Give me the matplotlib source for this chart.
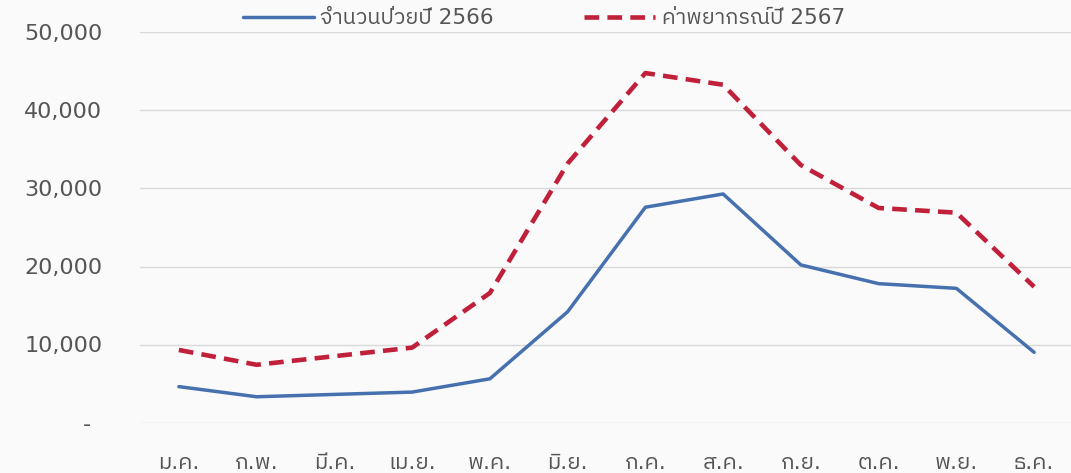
import matplotlib
matplotlib.use("Agg")
import matplotlib.pyplot as plt
import matplotlib.transforms as mtransforms
from matplotlib import font_manager as fm
from matplotlib.ft2font import FT2Font

# ---- data ----
months = ["ม.ค.", "ก.พ.", "มี.ค.", "เม.ย.", "พ.ค.", "มิ.ย.",
          "ก.ค.", "ส.ค.", "ก.ย.", "ต.ค.", "พ.ย.", "ธ.ค."]
cases_2566 = [4600, 3300, 3600, 3900, 5600, 14200, 27600, 29300, 20200, 17800, 17200, 9000]
forecast_2567 = [9300, 7400, 8500, 9600, 16600, 33200, 44800, 43300, 33000, 27500, 26900, 17400]
series_labels = ["จำนวนป่วยปี 2566", "ค่าพยากรณ์ปี 2567"]
y_ticks = [0, 10000, 20000, 30000, 40000, 50000]
y_ticklabels = ["-", "10,000", "20,000", "30,000", "40,000", "50,000"]

# ---- find a font with Thai glyphs ----
thai_font = None
preferred = []
for f in fm.fontManager.ttflist:
    try:
        ft = FT2Font(f.fname)
        if ft.get_char_index(ord("ก")) and ft.get_char_index(ord("2")):
            preferred.append(f.name)
    except Exception:
        pass
for cand in preferred:
    if "Thai" in cand or "Kanit" in cand or "Prompt" in cand:
        thai_font = cand
        break
if thai_font is None and preferred:
    thai_font = preferred[0]
families = ["DejaVu Sans"] + ([thai_font] if thai_font else [])
plt.rcParams["font.family"] = families

bg = "#FAFAFA"
text_col = "#555555"

fig = plt.figure(figsize=(10.71, 4.73), dpi=100, facecolor=bg)
ax = fig.add_axes([140 / 1071, 50.5 / 473, 933 / 1071, 390 / 473], facecolor=bg)

x = list(range(len(months)))
ax.plot(x, cases_2566, color="#4670AE", lw=2.5, solid_joinstyle="round",
        solid_capstyle="round", label=series_labels[0], zorder=3)
ax.plot(x, forecast_2567, color="#C0203A", lw=3.3, linestyle=(0, (3.2, 1.8)),
        dash_joinstyle="round", dash_capstyle="butt", label=series_labels[1], zorder=3)

ax.set_xlim(-0.5, len(months) - 0.5)
ax.set_ylim(0, 50000)
ax.set_yticks(y_ticks)
ax.set_yticklabels(y_ticklabels)
ax.set_xticks(x)
ax.set_xticklabels(months)
ax.grid(axis="y", color="#D9D9D9", lw=1.0, zorder=0)
ax.set_axisbelow(True)
for s in ax.spines.values():
    s.set_visible(False)
ax.tick_params(axis="both", length=0, colors=text_col)
ax.tick_params(axis="y", pad=27, labelsize=16)
ax.tick_params(axis="x", pad=22, labelsize=16)

# shift the "-" zero label left, like an accounting format
zero_lbl = ax.get_yticklabels()[0]
zero_lbl.set_transform(zero_lbl.get_transform() +
                       mtransforms.ScaledTranslation(-0.12, 0, fig.dpi_scale_trans))

leg = ax.legend(loc="center", bbox_to_anchor=(0.433, 1.037), ncol=2, frameon=False,
                fontsize=15.5, handlelength=3.3, handletextpad=0.3, columnspacing=4.2,
                borderaxespad=0)
for t in leg.get_texts():
    t.set_color(text_col)

fig.savefig("out.png", dpi=100, facecolor=bg)
